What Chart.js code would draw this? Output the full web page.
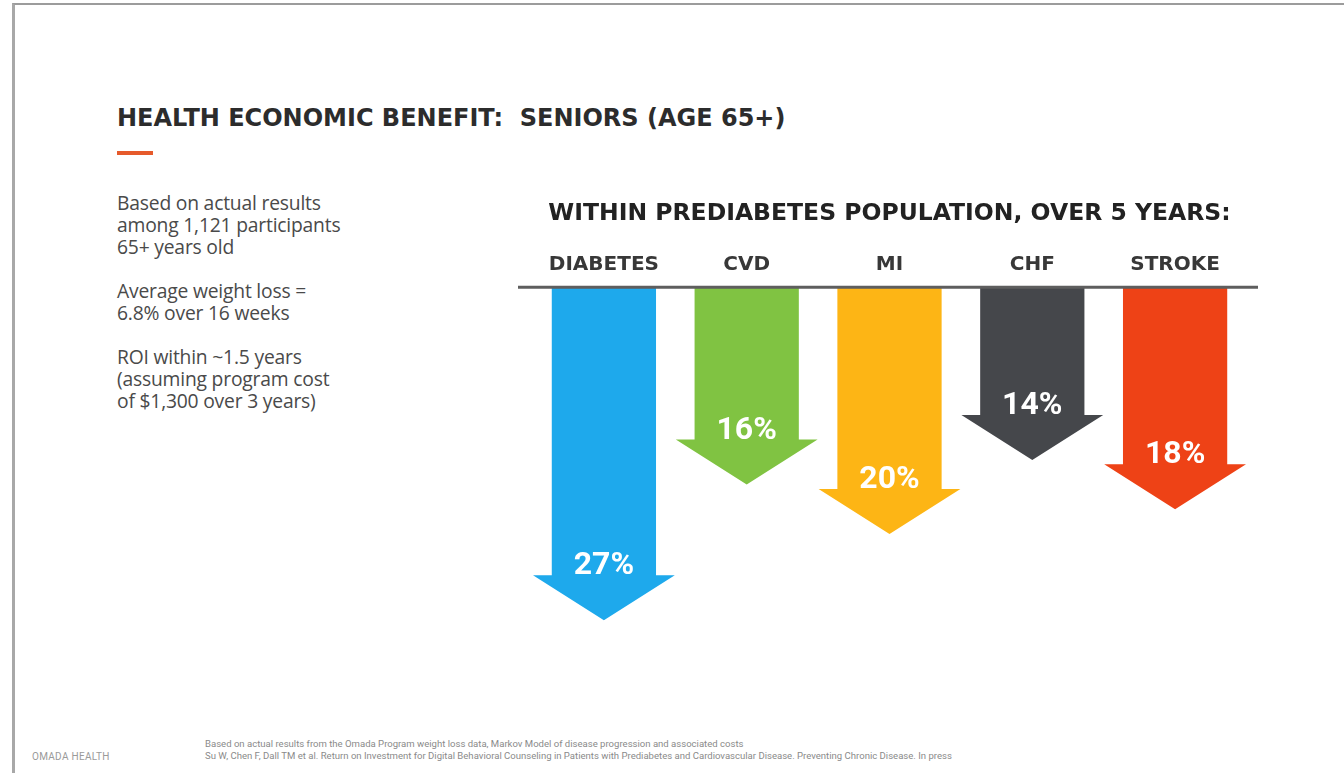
<!DOCTYPE html>
<html>
<head>
<meta charset="utf-8">
<title>Health economic benefit: seniors</title>
<script src="https://cdn.jsdelivr.net/npm/chart.js@4.4.0/dist/chart.umd.min.js"></script>
<style>
  html, body { margin: 0; padding: 0; background: #fff; }
  body { width: 1344px; height: 773px; position: relative; overflow: hidden; font-family: Roboto, "Open Sans", sans-serif; }
  .frame { position: absolute; left: 12px; top: 3px; width: 1340px; height: 780px; border-top: 2px solid #9c9c9c; border-left: 3px solid #a8a8a8; }
  .heading { position: absolute; left: 117px; top: 104px; font-family: "DejaVu Sans", sans-serif; font-weight: bold; font-size: 24px; line-height: 28px; color: #2c2c2c; white-space: nowrap; }
  .accent { position: absolute; left: 117px; top: 151px; width: 36px; height: 4px; background: #e65a2b; }
  .notes { position: absolute; left: 117px; top: 192px; font-family: "Open Sans", sans-serif; font-size: 19.3px; line-height: 22px; color: #4a4a4a; letter-spacing: -0.2px; }
  .brand { position: absolute; left: 32px; top: 751px; font-size: 10px; letter-spacing: 0.3px; color: #9a9a9a; }
  .source { position: absolute; left: 205px; top: 738px; font-size: 9.55px; line-height: 12px; color: #8a8a8a; white-space: nowrap; }
  #chartBox { position: absolute; left: 500px; top: 190px; width: 780px; height: 540px; }
</style>
</head>
<body>
<div class="frame"></div>
<div class="heading">HEALTH ECONOMIC BENEFIT:&nbsp; SENIORS (AGE 65+)</div>
<div class="accent"></div>
<div class="notes">
  Based on actual results<br>among 1,121 participants<br>65+ years old<br><br>
  Average weight loss =<br>6.8% over 16 weeks<br><br>
  ROI within ~1.5 years<br>(assuming program cost<br>of $1,300 over 3 years)
</div>
<div class="brand">OMADA HEALTH</div>
<div class="source">
  Based on actual results from the Omada Program weight loss data, Markov Model of disease progression and associated costs<br>
  Su W, Chen F, Dall TM et al. Return on Investment for Digital Behavioral Counseling in Patients with Prediabetes and Cardiovascular Disease. Preventing Chronic Disease. In press
</div>
<div id="chartBox"><canvas id="js--arrows"></canvas></div>

<script>
// reduction in 5-year incidence, percent
const conditions = ["DIABETES", "CVD", "MI", "CHF", "STROKE"];
const reductions = [27, 16, 20, 14, 18];
const arrowColors = ["#1ea9ec", "#80c342", "#fdb515", "#45474b", "#ee4216"];

const headHeight = 45;

// draws every bar as a down-pointing arrow, tip at the bar's value
const arrowPlugin = {
  id: "arrows",
  beforeDatasetsDraw(chart) {
    const ctx = chart.ctx;
    const xScale = chart.scales.x;
    const catWidth = (xScale.right - xScale.left) / conditions.length;
    const meta = chart.getDatasetMeta(0);

    ctx.save();
    meta.data.forEach(function(bar, i) {
      const half = bar.width / 2;
      const headHalf = catWidth / 2 - 0.5;
      const headTop = bar.y - headHeight;

      ctx.fillStyle = bar.options.backgroundColor;
      ctx.beginPath();
      ctx.moveTo(bar.x - half, bar.base);
      ctx.lineTo(bar.x + half, bar.base);
      ctx.lineTo(bar.x + half, headTop);
      ctx.lineTo(bar.x + headHalf, headTop);
      ctx.lineTo(bar.x, bar.y);
      ctx.lineTo(bar.x - headHalf, headTop);
      ctx.lineTo(bar.x - half, headTop);
      ctx.closePath();
      ctx.fill();

      ctx.fillStyle = "#ffffff";
      ctx.font = "bold 32px Roboto, sans-serif";
      ctx.textAlign = "center";
      ctx.textBaseline = "middle";
      ctx.fillText(reductions[i] + "%", bar.x, headTop - 9);
    });
    ctx.restore();
    return false;
  },
  afterDraw(chart) {
    // baseline the arrows hang from
    const ctx = chart.ctx;
    const area = chart.chartArea;
    const y = chart.scales.y.getPixelForValue(0);
    ctx.save();
    ctx.strokeStyle = "#5e5e5e";
    ctx.lineWidth = 3;
    ctx.beginPath();
    ctx.moveTo(area.left - 14.5, y);
    ctx.lineTo(area.right + 11.5, y);
    ctx.stroke();
    ctx.restore();
  }
};

const data = {
  labels: conditions,
  datasets: [{
    data: reductions,
    backgroundColor: arrowColors,
    borderWidth: 0,
    categoryPercentage: 1,
    barPercentage: 0.73
  }]
};

const config = {
  type: "bar",
  data: data,
  options: {
    responsive: true,
    maintainAspectRatio: false,
    animation: false,
    layout: {
      padding: { top: 10, bottom: 11, left: 32.5, right: 33.5 }
    },
    plugins: {
      legend: { display: false },
      tooltip: { enabled: false },
      title: {
        display: true,
        text: "WITHIN PREDIABETES POPULATION, OVER 5 YEARS:",
        color: "#222222",
        font: { family: "DejaVu Sans", weight: "bold", size: 23.5 },
        padding: { top: 0, bottom: 15 }
      }
    },
    scales: {
      x: {
        position: "top",
        grid: { display: false, drawTicks: false },
        border: { display: false },
        ticks: {
          color: "#383838",
          padding: 10,
          font: { family: "DejaVu Sans", weight: "bold", size: 20 }
        }
      },
      y: {
        display: false,
        reverse: true,
        min: 0,
        max: 35
      }
    }
  },
  plugins: [arrowPlugin]
};

new Chart(document.getElementById("js--arrows"), config);
</script>
</body>
</html>
